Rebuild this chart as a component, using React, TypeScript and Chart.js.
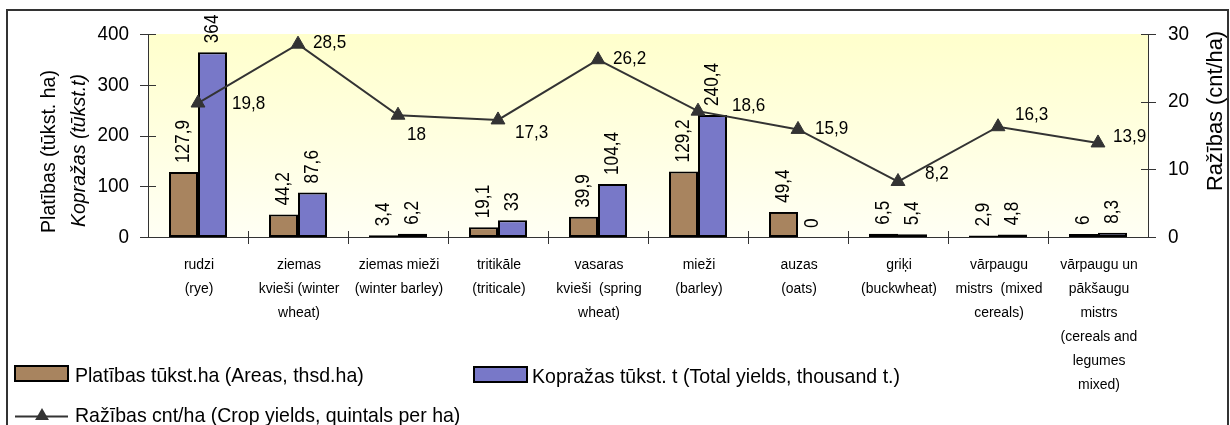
import React, { useEffect, useRef } from "react";
import { Chart, registerables } from "chart.js";

Chart.register(...registerables);

// ---------- data ----------
const categories: string[][] = [
  ["rudzi", "(rye)"],
  ["ziemas", "kvieši (winter", "wheat)"],
  ["ziemas mieži", "(winter barley)"],
  ["tritikāle", "(triticale)"],
  ["vasaras", "kvieši  (spring", "wheat)"],
  ["mieži", "(barley)"],
  ["auzas", "(oats)"],
  ["griķi", "(buckwheat)"],
  ["vārpaugu", "mistrs  (mixed", "cereals)"],
  ["vārpaugu un", "pākšaugu", "mistrs", "(cereals and", "legumes", "mixed)"],
];
const areas = [127.9, 44.2, 3.4, 19.1, 39.9, 129.2, 49.4, 6.5, 2.9, 6];
const totalYields = [364, 87.6, 6.2, 33, 104.4, 240.4, 0, 5.4, 4.8, 8.3];
const cropYields = [19.8, 28.5, 18, 17.3, 26.2, 18.6, 15.9, 8.2, 16.3, 13.9];
const leftTicks = [0, 100, 200, 300, 400];
const rightTicks = [0, 10, 20, 30];

const areasLabel = "Platības tūkst.ha (Areas, thsd.ha)";
const yieldsLabel = "Kopražas tūkst. t (Total yields, thousand t.)";
const cropLabel = "Ražības cnt/ha (Crop yields, quintals per ha)";
const leftTitle1 = "Platības (tūkst. ha)";
const leftTitle2 = "Kopražas (tūkst.t)";
const rightTitle = "Ražības (cnt/ha)";

// ---------- style / layout ----------
const BROWN = "#A8845F";
const BLUE = "#7878C8";
const DARK = "#333333";
const FONT = '"Liberation Sans", Arial, sans-serif';
// label offsets (dx, dy) for the crop-yield point labels
const lineLabelOffsets: [number, number][] = [
  [34, 1], [15, -1], [9, 20], [17, 13], [15, -1],
  [34, -5], [17, -1], [27, -8], [17, -12], [15, -6],
];

const fmt = (v: number) => String(v).replace(".", ",");

type TOpt = {
  size: number;
  sx?: number;
  italic?: boolean;
  align?: CanvasTextAlign;
  baseline?: CanvasTextBaseline;
  rot?: number;
  color?: string;
};
function txt(ctx: CanvasRenderingContext2D, s: string, x: number, y: number, o: TOpt) {
  ctx.save();
  ctx.translate(x, y);
  if (o.rot) ctx.rotate(o.rot);
  ctx.scale(o.sx ?? 1, 1);
  ctx.font = `${o.italic ? "italic " : ""}${o.size}px ${FONT}`;
  ctx.fillStyle = o.color ?? "#000";
  ctx.textAlign = o.align ?? "left";
  ctx.textBaseline = o.baseline ?? "alphabetic";
  ctx.fillText(s, 0, 0);
  ctx.restore();
}

function triangle(ctx: CanvasRenderingContext2D, x: number, y: number, r: number) {
  const s = (3 * r) / Math.sqrt(3);
  const h = (s * Math.sqrt(3)) / 2;
  ctx.beginPath();
  ctx.moveTo(x, y - (2 * h) / 3);
  ctx.lineTo(x + s / 2, y + h / 3);
  ctx.lineTo(x - s / 2, y + h / 3);
  ctx.closePath();
  ctx.fill();
}

const bgPlugin = {
  id: "bgPlugin",
  beforeDatasetsDraw(chart: any) {
    const { ctx, chartArea: a } = chart;
    ctx.save();
    const g = ctx.createLinearGradient(0, a.top, 0, a.bottom);
    g.addColorStop(0, "#FFFFCC");
    g.addColorStop(1, "#FFFFF4");
    ctx.fillStyle = g;
    ctx.fillRect(a.left, a.top, a.right - a.left, a.bottom - a.top);
    ctx.restore();
  },
};

const decoPlugin = {
  id: "decoPlugin",
  afterDraw(chart: any) {
    const { ctx, chartArea: a, scales } = chart;
    const x = scales.x;
    const yl = scales.y;
    const yr = scales.y1;
    ctx.save();

    // axes lines and tick marks
    ctx.strokeStyle = DARK;
    ctx.lineWidth = 1;
    ctx.beginPath();
    ctx.moveTo(a.left + 0.5, a.top);
    ctx.lineTo(a.left + 0.5, a.bottom);
    ctx.moveTo(a.right + 0.5, a.top);
    ctx.lineTo(a.right + 0.5, a.bottom);
    ctx.moveTo(a.left, a.bottom + 0.5);
    ctx.lineTo(a.right, a.bottom + 0.5);
    leftTicks.forEach((v) => {
      const py = Math.round(yl.getPixelForValue(v)) + 0.5;
      ctx.moveTo(a.left - 8, py);
      ctx.lineTo(a.left + 8, py);
    });
    rightTicks.forEach((v) => {
      const py = Math.round(yr.getPixelForValue(v)) + 0.5;
      ctx.moveTo(a.right - 7, py);
      ctx.lineTo(a.right + 8, py);
    });
    for (let i = 1; i < categories.length; i++) {
      const px = Math.round((x.getPixelForValue(i - 1) + x.getPixelForValue(i)) / 2) + 0.5;
      ctx.moveTo(px, a.bottom - 6);
      ctx.lineTo(px, a.bottom + 7);
    }
    ctx.stroke();

    // tick labels
    leftTicks.forEach((v) => {
      txt(ctx, String(v), a.left - 19, yl.getPixelForValue(v), { size: 21, sx: 0.9, align: "right", baseline: "middle" });
    });
    rightTicks.forEach((v) => {
      txt(ctx, String(v), a.right + 20, yr.getPixelForValue(v), { size: 21, sx: 0.9, align: "left", baseline: "middle" });
    });

    // category labels
    categories.forEach((lines, i) => {
      const cx = x.getPixelForValue(i) + 1;
      lines.forEach((l, j) => {
        txt(ctx, l, cx, a.bottom + 32 + j * 24, { size: 15.5, sx: 0.9, align: "center" });
      });
    });

    // axis titles
    const midL = (a.top + a.bottom) / 2 + 16;
    txt(ctx, leftTitle1, 55, midL, { size: 21, sx: 0.93, align: "center", rot: -Math.PI / 2 });
    txt(ctx, leftTitle2, 85, midL - 1, { size: 21, sx: 0.93, italic: true, align: "center", rot: -Math.PI / 2 });
    txt(ctx, rightTitle, 1222, 111, { size: 22.5, sx: 0.97, align: "center", rot: -Math.PI / 2 });

    // bar value labels
    [0, 1].forEach((di) => {
      const meta = chart.getDatasetMeta(di);
      const vals = di === 0 ? areas : totalYields;
      meta.data.forEach((el: any, i: number) => {
        txt(ctx, fmt(vals[i]), el.x, el.y - 9, { size: 21, sx: 0.82, align: "left", baseline: "middle", rot: -Math.PI / 2 });
      });
    });

    // line value labels
    const lm = chart.getDatasetMeta(2);
    lm.data.forEach((el: any, i: number) => {
      const [dx, dy] = lineLabelOffsets[i];
      txt(ctx, fmt(cropYields[i]), el.x + dx, el.y + dy, { size: 19, sx: 0.9, align: "left", baseline: "middle" });
    });

    // legend
    ctx.lineWidth = 2;
    ctx.strokeStyle = "#000";
    ctx.fillStyle = BROWN;
    ctx.fillRect(15, 366, 53, 15);
    ctx.strokeRect(15, 366, 53, 15);
    txt(ctx, areasLabel, 75, 382, { size: 21, sx: 0.93 });
    ctx.fillStyle = BLUE;
    ctx.fillRect(474, 367, 53, 15);
    ctx.strokeRect(474, 367, 53, 15);
    txt(ctx, yieldsLabel, 532, 383, { size: 21, sx: 0.93 });
    ctx.strokeStyle = DARK;
    ctx.beginPath();
    ctx.moveTo(15, 416.5);
    ctx.lineTo(68, 416.5);
    ctx.stroke();
    ctx.fillStyle = DARK;
    triangle(ctx, 42, 416, 8);
    txt(ctx, cropLabel, 75, 422, { size: 21, sx: 0.93 });

    // outer frame
    ctx.strokeStyle = DARK;
    ctx.lineWidth = 2;
    ctx.strokeRect(7, 10, 1221, 500);

    ctx.restore();
  },
};

export default function App() {
  const ref = useRef<HTMLCanvasElement | null>(null);
  useEffect(() => {
    if (!ref.current) return;
    const chart = new Chart(ref.current, {
      type: "bar",
      data: {
        labels: categories.map((c) => c.join(" ")),
        datasets: [
          {
            type: "bar",
            label: areasLabel,
            data: areas,
            backgroundColor: BROWN,
            borderColor: "#000",
            borderWidth: 2,
            borderSkipped: false,
            yAxisID: "y",
            order: 1,
            barPercentage: 1,
            categoryPercentage: 0.58,
          },
          {
            type: "bar",
            label: yieldsLabel,
            data: totalYields,
            backgroundColor: BLUE,
            borderColor: "#000",
            borderWidth: 2,
            borderSkipped: false,
            yAxisID: "y",
            order: 1,
            barPercentage: 1,
            categoryPercentage: 0.58,
          },
          {
            type: "line",
            label: cropLabel,
            data: cropYields,
            borderColor: DARK,
            backgroundColor: DARK,
            borderWidth: 2,
            pointStyle: "triangle",
            pointRadius: 8,
            pointBackgroundColor: DARK,
            pointBorderColor: DARK,
            pointBorderWidth: 1,
            tension: 0,
            yAxisID: "y1",
            order: 0,
          },
        ] as any,
      },
      options: {
        responsive: false,
        animation: false,
        devicePixelRatio: 1,
        layout: { padding: { top: 34, left: 0, right: 0, bottom: 0 } },
        plugins: { legend: { display: false }, tooltip: { enabled: false }, title: { display: false } },
        scales: {
          x: {
            type: "category",
            offset: true,
            grid: { display: false },
            border: { display: false },
            ticks: { display: false },
            afterFit: (s: any) => { s.height = 188; },
          },
          y: {
            position: "left",
            min: 0,
            max: 400,
            ticks: { display: false, stepSize: 100 },
            grid: { display: false },
            border: { display: false },
            afterFit: (s: any) => { s.width = 148; },
          },
          y1: {
            position: "right",
            min: 0,
            max: 30,
            ticks: { display: false, stepSize: 10 },
            grid: { display: false },
            border: { display: false },
            afterFit: (s: any) => { s.width = 82; },
          },
        },
      } as any,
      plugins: [bgPlugin, decoPlugin],
    });
    return () => chart.destroy();
  }, []);
  return (
    <div style={{ position: "fixed", left: 0, top: 0, width: 1230, height: 425, background: "#fff" }}>
      <canvas ref={ref} width={1230} height={425} style={{ display: "block", width: 1230, height: 425 }} />
    </div>
  );
}
